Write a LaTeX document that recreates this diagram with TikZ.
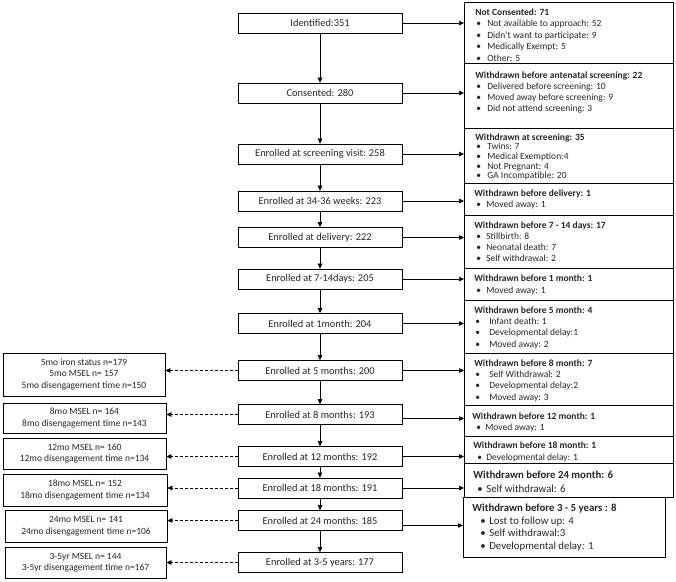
\documentclass[tikz,border=0pt]{standalone}
\usepackage{fontspec}
\setmainfont{Carlito}
\usetikzlibrary{arrows.meta}
\newcommand{\rb}[6]{\parbox[c][#2pt][t]{#1pt}{\fontsize{#5}{#4}\selectfont\parindent=0pt\lineskiplimit=-20pt\lineskip=0pt\vspace*{\dimexpr#3pt-6pt\relax}#6}}
\newcommand{\hdr}[2]{\rule{0pt}{9pt}\hspace*{#1pt}\textbf{#2}\par}
\newcommand{\itm}[3]{\hspace*{#1pt}\makebox[\dimexpr#2pt-#1pt\relax][l]{\textbullet}#3\par}
\tikzset{
  cbox/.style={draw, line width=0.7pt, minimum width=164pt, minimum height=20pt, inner sep=0pt, text=black!85, font=\fontsize{10.4}{12}\selectfont},
  lbox/.style={draw, line width=0.7pt, inner sep=0pt, align=center, text=black!85, font=\fontsize{9.5}{11.5}\selectfont},
  rbox/.style={draw, line width=0.7pt, inner sep=0pt, anchor=north west, text=black!85},
  flow/.style={-{Triangle[length=5pt,width=4.5pt]}, line width=0.6pt},
  dflow/.style={flow, densely dashed},
}
\begin{document}
\begin{tikzpicture}[x=1pt,y=-1pt]
\useasboundingbox[fill=white] (0,0) rectangle (676,581);
% centre column
\node[cbox] (cid)  at (320,23)    {Identified:351};
\node[cbox] (ccon) at (320,93)    {Consented: 280};
\node[cbox] (cscr) at (320,154)   {Enrolled at screening visit: 258};
\node[cbox] (c34)  at (320,201)   {Enrolled at 34-36 weeks: 223};
\node[cbox] (cdel) at (320,237.5) {Enrolled at delivery: 222};
\node[cbox] (c714) at (320,279)   {Enrolled at 7-14days: 205};
\node[cbox] (c1m)  at (320,323.5) {Enrolled at 1month: 204};
\node[cbox] (c5m)  at (320,370.5) {Enrolled at 5 months: 200};
\node[cbox] (c8m)  at (320,414.5) {Enrolled at 8 months: 193};
\node[cbox] (c12m) at (320,456.5) {Enrolled at 12 months: 192};
\node[cbox] (c18m) at (320,488)   {Enrolled at 18 months: 191};
\node[cbox] (c24m) at (320,520.5) {Enrolled at 24 months: 185};
\node[cbox] (c35y) at (320,562.5) {Enrolled at 3-5 years: 177};
% right column
\node[rbox] (r1) at (464,2) {\rb{209}{61}{10}{11.5}{9.5}{\hdr{11}{Not Consented: 71}\itm{12}{23}{Not available to approach: 52}\itm{12}{23}{Didn’t want to participate: 9}\itm{12}{23}{Medically Exempt: 5}\itm{12}{23}{Other: 5}}};
\node[rbox] (r2) at (464,63) {\rb{209}{65}{12}{11}{9.5}{\hdr{11}{Withdrawn before antenatal screening: 22}\itm{12}{23}{Delivered before screening: 10}\itm{12}{23}{Moved away before screening: 9}\itm{12}{23}{Did not attend screening: 3}}};
\node[rbox] (r3) at (464,128) {\rb{209}{55}{9}{9.6}{9.5}{\hdr{11}{Withdrawn at screening: 35}\itm{12}{23}{Twins: 7}\itm{12}{23}{Medical Exemption:4}\itm{12}{23}{Not Pregnant: 4}\itm{12}{23}{GA Incompatible: 20}}};
\node[rbox] (r4) at (464,183) {\rb{209}{32}{10}{11}{9.5}{\hdr{10}{Withdrawn before delivery: 1}\itm{12}{22}{Moved away: 1}}};
\node[rbox] (r5) at (464,215) {\rb{209}{53}{10}{11}{9.5}{\hdr{10}{Withdrawn before 7 - 14 days: 17}\itm{12}{22}{Stillbirth: 8}\itm{12}{22}{Neonatal death: 7}\itm{12}{22}{Self withdrawal: 2}}};
\node[rbox] (r6) at (464,268) {\rb{209}{32}{10}{12}{9.5}{\hdr{10}{Withdrawn before 1 month: 1}\itm{12}{22}{Moved away: 1}}};
\node[rbox] (r7) at (464,300) {\rb{209}{53}{10}{11.3}{9.5}{\hdr{10}{Withdrawn before 5 month: 4}\itm{11}{25}{Infant death: 1}\itm{11}{25}{Developmental delay:1}\itm{11}{25}{Moved away: 2}}};
\node[rbox] (r8) at (464,353) {\rb{209}{52}{10}{11.3}{9.5}{\hdr{10}{Withdrawn before 8 month: 7}\itm{11}{25}{Self Withdrawal: 2}\itm{11}{25}{Developmental delay:2}\itm{11}{25}{Moved away: 3}}};
\node[rbox] (r9) at (464,405) {\rb{209}{31}{11}{11}{9.5}{\hdr{8}{Withdrawn before 12 month: 1}\itm{12}{21}{Moved away: 1}}};
\node[rbox] (r10) at (464,436) {\rb{209}{27}{9}{12.5}{9.5}{\hdr{9}{Withdrawn before 18 month: 1}\itm{13}{22}{Developmental delay: 1}}};
\node[rbox] (r11) at (464,463) {\rb{209}{34}{12}{14}{10.8}{\hdr{9}{Withdrawn before 24 month: 6}\itm{13}{22}{Self withdrawal: 6}}};
\node[rbox] (r12) at (463,497) {\rb{202}{60}{11}{12.7}{10.8}{\hdr{9}{Withdrawn before 3 - 5 years : 8}\itm{17}{26}{Lost to follow up: 4}\itm{17}{26}{Self withdrawal:3}\itm{17}{26}{Developmental delay: 1}}};
% left column
\node[lbox, minimum width=162pt, minimum height=43pt] (l5)  at (84,374.5) {5mo iron status n=179\\5mo MSEL n= 157\\5mo disengagement time n=150};
\node[lbox, minimum width=163pt, minimum height=30pt] (l8)  at (84.5,418) {8mo MSEL n= 164\\8mo disengagement time n=143};
\node[lbox, minimum width=163pt, minimum height=31pt] (l12) at (84.5,453.5) {12mo MSEL n= 160\\12mo disengagement time n=134};
\node[lbox, minimum width=164pt, minimum height=32pt] (l18) at (85,490) {18mo MSEL n= 152\\18mo disengagement time n=134};
\node[lbox, minimum width=162pt, minimum height=32pt] (l24) at (86,526) {24mo MSEL n= 141\\24mo disengagement time n=106};
\node[lbox, minimum width=161pt, minimum height=31pt] (l35) at (85.5,562.5) {3-5yr MSEL n= 144\\3-5yr disengagement time n=167};
% vertical flow
\foreach \a/\b in {cid/ccon, ccon/cscr, cscr/c34, c34/cdel, cdel/c714, c714/c1m, c1m/c5m, c5m/c8m, c8m/c12m, c12m/c18m, c18m/c24m, c24m/c35y}
  \draw[flow] (\a.south) -- (\b.north);
% withdrawals
\foreach \a/\b in {cid/r1, ccon/r2, cscr/r3, c34/r4, cdel/r5, c714/r6, c1m/r7, c5m/r8, c12m/r10, c18m/r11}
  \draw[flow] (\a.east) -- (\a.east -| \b.west);
\draw[flow] ([yshift=-4pt]c8m.east) -- ([yshift=-4pt]c8m.east -| r9.west);
\draw[flow] ([yshift=-5pt]c24m.east) -- ([yshift=-5pt]c24m.east -| r12.west);
% assessments
\foreach \a/\b in {c5m/l5, c8m/l8, c12m/l12, c18m/l18, c24m/l24, c35y/l35}
  \draw[dflow] (\a.west) -- (\a.west -| \b.east);
\end{tikzpicture}
\end{document}
